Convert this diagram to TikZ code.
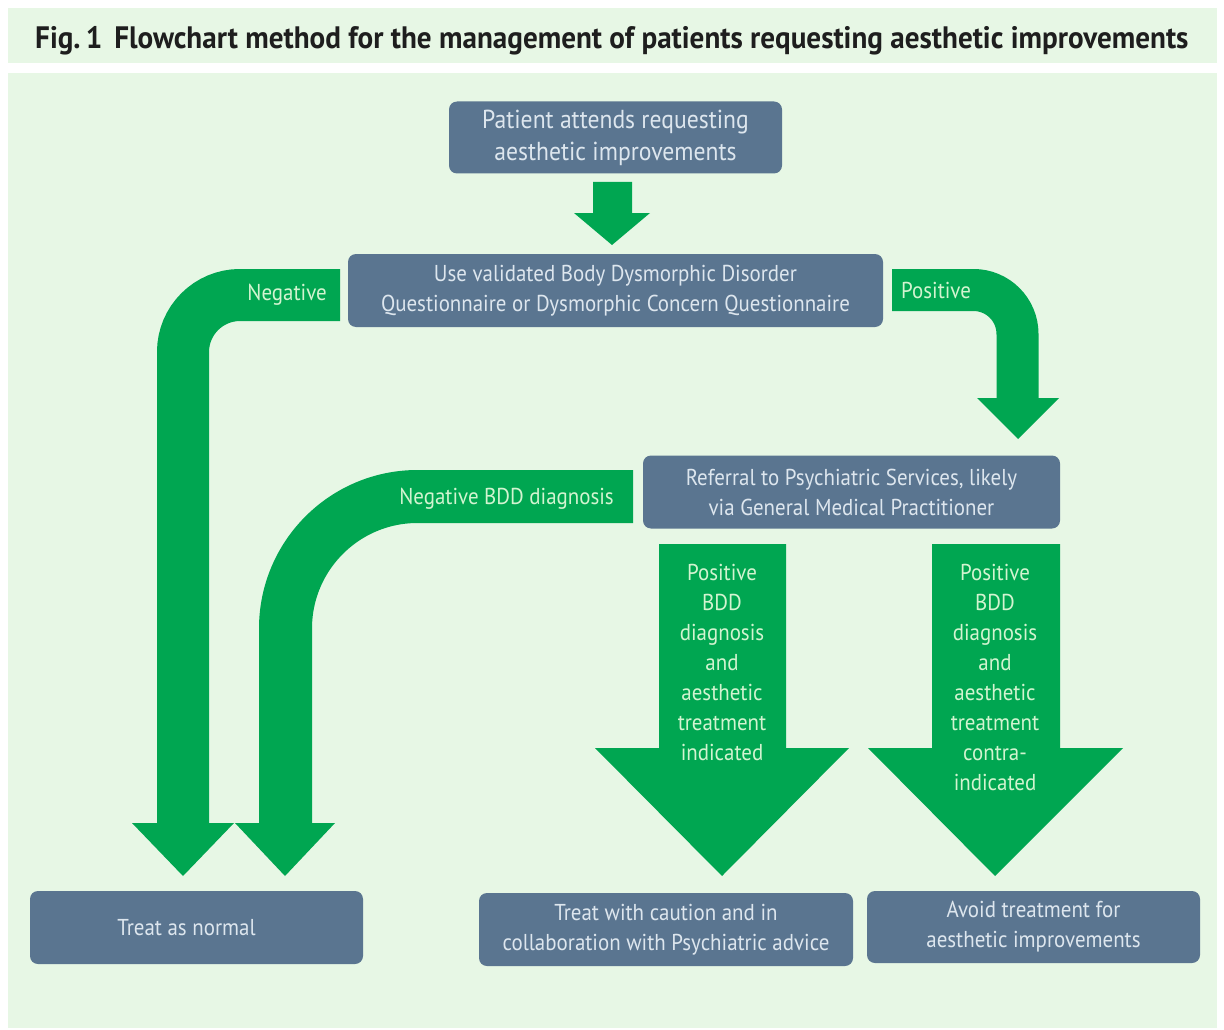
\documentclass[tikz,border=0pt]{standalone}
\usepackage{fontspec}
\setmainfont{PT Sans}
\newfontfamily\boxfont[FakeStretch=0.91]{PT Sans}
\newfontfamily\titlefont[FakeStretch=0.94]{PT Sans}
\definecolor{bggreen}{HTML}{E7F7E5}
\definecolor{arrowgreen}{HTML}{00A651}
\definecolor{slate}{HTML}{5A7590}
\definecolor{boxtext}{HTML}{DDE6EE}
\definecolor{labeltext}{HTML}{D2F4D0}
\definecolor{titletext}{HTML}{1E1E1E}
\tikzset{
  box/.style={fill=slate, rounded corners=8pt, inner sep=0pt, align=center,
    text=boxtext, font=\boxfont\fontsize{23}{30}\selectfont},
  lbl/.style={inner sep=0pt, align=center, text=labeltext,
    font=\boxfont\fontsize{23}{30}\selectfont},
  band/.style={draw=arrowgreen, line width=#1},
  head/.style={fill=arrowgreen}
}
\begin{document}
\begin{tikzpicture}[x=1pt,y=-1pt]
\useasboundingbox (0,0) rectangle (1224,1030);
\fill[white] (0,0) rectangle (1224,1030);
% background panels
\fill[bggreen] (8,8) rectangle (1217,63);
\fill[bggreen] (8,73) rectangle (1217,1028);
% title
\node[anchor=base west, inner sep=0pt, text=titletext,
  font=\titlefont\bfseries\fontsize{31}{33}\selectfont] (title) at (35,49)
  {Fig.\,1\hspace{12pt}Flowchart method for the management of patients requesting aesthetic improvements};

% boxes
\node[box, minimum width=333pt, minimum height=72pt,
  font=\boxfont\fontsize{26}{32}\selectfont] (b1) at (615.5,137.5)
  {Patient attends requesting\\aesthetic improvements};
\node[box, minimum width=535pt, minimum height=73pt] (b2) at (615.5,290.5)
  {Use validated Body Dysmorphic Disorder\\Questionnaire or Dysmorphic Concern Questionnaire};
\node[box, minimum width=417pt, minimum height=73pt] (b3) at (851.5,492)
  {Referral to Psychiatric Services, likely\\via General Medical Practitioner};
\node[box, minimum width=333pt, minimum height=73pt] (b4) at (196.5,927.5)
  {\hspace*{-20pt}Treat as normal};
\node[box, minimum width=374pt, minimum height=73pt] (b5) at (666,929.5)
  {Treat with caution and in\\collaboration with Psychiatric advice};
\node[box, minimum width=333pt, minimum height=72pt] (b6) at (1033.5,927)
  {Avoid treatment for\\aesthetic improvements};

% arrow A: b1 -> b2
\fill[arrowgreen] (593,182) -- (632,182) -- (632,213) -- (650,213) -- (612,245) -- (574,213) -- (593,213) -- cycle;

% arrow B: Negative
\coordinate (negS) at (340,295);
\coordinate (negE) at (183,824);
\draw[band=52pt, rounded corners=57pt] (negS) -| (negE);
\fill[head] (132,823) -- (234,823) -- (183,876) -- cycle;
\node[lbl, anchor=east] (lneg) at (327,295) {Negative};

% arrow C: Negative BDD diagnosis
\coordinate (nbS) at (633,496.5);
\coordinate (nbE) at (285.5,824);
\draw[band=53pt, rounded corners=132pt] (nbS) -| (nbE);
\fill[head] (235,823) -- (335,823) -- (285,876) -- cycle;
\node[lbl, anchor=east] (lnb) at (614,499) {Negative BDD diagnosis};

% arrow D: Positive
\coordinate (posS) at (892,290);
\coordinate (posE) at (1017.5,399);
\draw[band=42pt, rounded corners=44pt] (posS) -| (posE);
\fill[head] (977,398) -- (1059,398) -- (1018,439) -- cycle;
\node[lbl, anchor=west] (lpos) at (901,290) {Positive};

% arrow E
\fill[arrowgreen] (659,544) -- (786,544) -- (786,748) -- (849,748) -- (722,876) -- (595,748) -- (659,748) -- cycle;
\node[lbl] (le) at (722,662) {Positive\\BDD\\diagnosis\\and\\aesthetic\\treatment\\indicated};

% arrow F
\fill[arrowgreen] (932,544) -- (1060,544) -- (1060,748) -- (1123,748) -- (995,876) -- (868,748) -- (932,748) -- cycle;
\node[lbl] (lf) at (995,677) {Positive\\BDD\\diagnosis\\and\\aesthetic\\treatment\\contra-\\indicated};
\end{tikzpicture}
\end{document}
